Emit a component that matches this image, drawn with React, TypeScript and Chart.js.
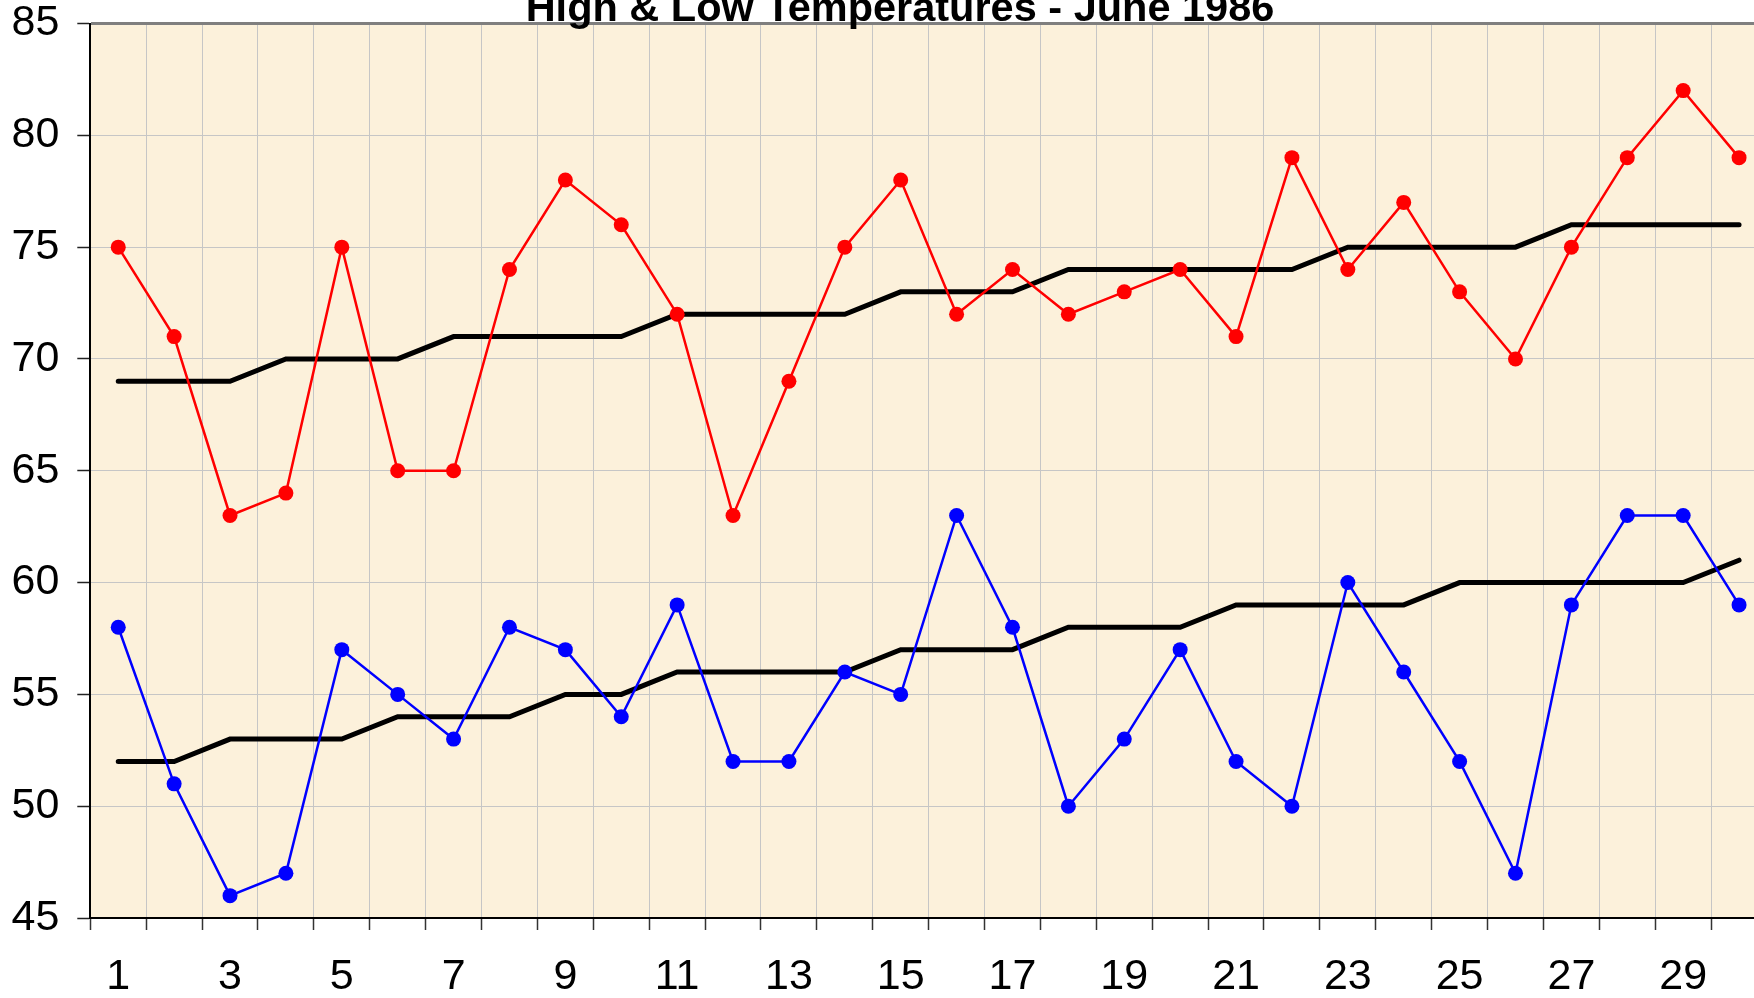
import React, { useEffect, useRef } from 'react';
import { Chart, registerables } from 'chart.js';

Chart.register(...registerables);

const TITLE = 'High & Low Temperatures - June 1986';

const dayLabels = [
  '1', '2', '3', '4', '5', '6', '7', '8', '9', '10',
  '11', '12', '13', '14', '15', '16', '17', '18', '19', '20',
  '21', '22', '23', '24', '25', '26', '27', '28', '29', '30',
];

const highTemps = [75, 71, 63, 64, 75, 65, 65, 74, 78, 76, 72, 63, 69, 75, 78, 72, 74, 72, 73, 74, 71, 79, 74, 77, 73, 70, 75, 79, 82, 79];
const lowTemps = [58, 51, 46, 47, 57, 55, 53, 58, 57, 54, 59, 52, 52, 56, 55, 63, 58, 50, 53, 57, 52, 50, 60, 56, 52, 47, 59, 63, 63, 59];
const normalHigh = [69, 69, 69, 70, 70, 70, 71, 71, 71, 71, 72, 72, 72, 72, 73, 73, 73, 74, 74, 74, 74, 74, 75, 75, 75, 75, 76, 76, 76, 76];
const normalLow = [52, 52, 53, 53, 53, 54, 54, 54, 55, 55, 56, 56, 56, 56, 57, 57, 57, 58, 58, 58, 59, 59, 59, 59, 60, 60, 60, 60, 60, 61];

const yMin = 45;
const yMax = 85;
const yStep = 5;

const FONT = '"Liberation Sans", Arial, Helvetica, sans-serif';

const plotBackground = {
  id: 'plotBackground',
  beforeDraw(chart: any) {
    const { ctx, chartArea, width, height } = chart;
    ctx.save();
    ctx.fillStyle = '#ffffff';
    ctx.fillRect(0, 0, width, height);
    ctx.fillStyle = '#fcf1db';
    ctx.fillRect(chartArea.left, chartArea.top, chartArea.right - chartArea.left, chartArea.bottom - chartArea.top);
    ctx.restore();
  },
};

// Chart title, drawn over the plot frame like the reference (centred on the canvas).
const chartTitle = {
  id: 'chartTitle',
  afterDraw(chart: any) {
    const { ctx, width } = chart;
    ctx.save();
    ctx.fillStyle = '#000000';
    ctx.font = `bold 41.5px ${FONT}`;
    ctx.textAlign = 'center';
    ctx.textBaseline = 'alphabetic';
    ctx.fillText(TITLE, width / 2, 20.7);
    ctx.restore();
  },
};

export default function App() {
  const ref = useRef<HTMLCanvasElement>(null);

  useEffect(() => {
    if (!ref.current) return;
    const chart = new Chart(ref.current, {
      type: 'line',
      data: {
        labels: dayLabels,
        datasets: [
          {
            label: 'High',
            data: highTemps,
            borderColor: '#ff0000',
            backgroundColor: '#ff0000',
            borderWidth: 2.5,
            pointRadius: 7.5,
            pointBorderWidth: 0,
            pointBackgroundColor: '#ff0000',
            tension: 0,
          },
          {
            label: 'Low',
            data: lowTemps,
            borderColor: '#0000ff',
            backgroundColor: '#0000ff',
            borderWidth: 2.5,
            pointRadius: 7.5,
            pointBorderWidth: 0,
            pointBackgroundColor: '#0000ff',
            tension: 0,
          },
          {
            label: 'Normal High',
            data: normalHigh,
            borderColor: '#000000',
            borderWidth: 5,
            pointRadius: 0,
            borderCapStyle: 'round',
            tension: 0,
          },
          {
            label: 'Normal Low',
            data: normalLow,
            borderColor: '#000000',
            borderWidth: 5,
            pointRadius: 0,
            borderCapStyle: 'round',
            tension: 0,
          },
        ],
      },
      options: {
        responsive: false,
        animation: false,
        events: [],
        layout: { padding: { left: 0, right: 33, top: 23.5, bottom: 0 } },
        plugins: {
          legend: { display: false },
          tooltip: { enabled: false },
          title: { display: false },
        },
        scales: {
          x: {
            type: 'category',
            offset: true,
            afterFit(scale: any) {
              scale.height = 80;
            },
            grid: {
              offset: true,
              color: '#c6c6c6',
              lineWidth: 1,
              tickLength: 12,
              tickColor: '#333333',
              tickWidth: 1.5,
            },
            border: { color: '#000000', width: 2 },
            ticks: {
              autoSkip: false,
              maxRotation: 0,
              minRotation: 0,
              padding: 21,
              color: '#000000',
              font: { family: FONT, size: 43, lineHeight: 1.2 },
              callback: (_v: any, i: number) => (i % 2 === 0 ? dayLabels[i] : ''),
            },
          },
          y: {
            type: 'linear',
            min: yMin,
            max: yMax,
            afterFit(scale: any) {
              scale.width = 90.3;
            },
            grid: {
              color: (ctx: any) => (ctx.tick && ctx.tick.value === yMax ? '#7f7f7f' : '#c6c6c6'),
              lineWidth: (ctx: any) => (ctx.tick && ctx.tick.value === yMax ? 3 : 1),
              tickLength: 13,
              tickColor: '#222222',
              tickWidth: 1.5,
            },
            border: { color: '#000000', width: 2 },
            ticks: {
              stepSize: yStep,
              padding: 18,
              color: '#000000',
              font: { family: FONT, size: 43, lineHeight: 0.1 },
            },
          },
        },
      },
      plugins: [plotBackground, chartTitle],
    });
    return () => chart.destroy();
  }, []);

  return (
    <div style={{ position: 'fixed', left: 0, top: 0, width: 1754, height: 998, overflow: 'hidden', background: '#ffffff' }}>
      <canvas ref={ref} width={1800} height={998} style={{ display: 'block' }} />
    </div>
  );
}
